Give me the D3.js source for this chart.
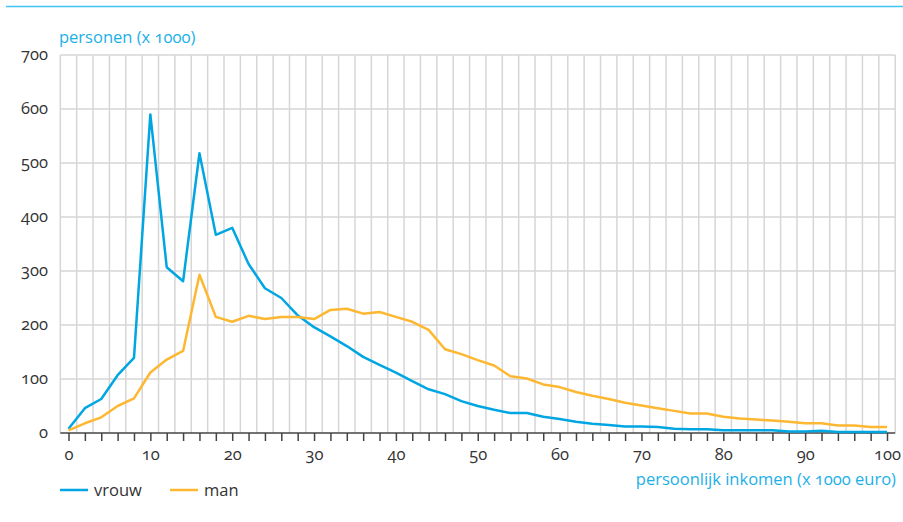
<!DOCTYPE html>
<html>
<head>
<meta charset="utf-8">
<script src="https://cdn.jsdelivr.net/npm/d3@7"></script>
<style>
  body { margin: 0; background: #fff; }
  svg text { font-family: "Open Sans", "Noto Sans", sans-serif; font-variant-numeric: oldstyle-nums; }
</style>
</head>
<body>
<div id="chart"></div>
<script>
// inkomen (x 1000 euro), steps of 2
var income = d3.range(0, 101, 2);
var vrouw = [8, 46, 63, 107, 139, 590, 307, 281, 518, 367, 380, 313, 268, 250, 218, 196,
  179, 161, 141, 126, 112, 96, 81, 72, 59, 50, 43, 37, 37, 30, 26, 21, 17, 15, 12, 12,
  11, 8, 7, 7, 5, 5, 5, 5, 3, 3, 4, 2, 2, 2, 2];
var man = [5, 18, 29, 50, 64, 112, 136, 152, 293, 215, 206, 217, 211, 215, 215, 211,
  228, 230, 221, 224, 215, 206, 191, 155, 146, 135, 125, 105, 101, 90, 85, 76, 69, 63,
  56, 51, 46, 41, 36, 36, 30, 27, 25, 23, 21, 18, 18, 14, 14, 11, 11];
var yTicks = [0, 100, 200, 300, 400, 500, 600, 700];
var xTicks = [0, 10, 20, 30, 40, 50, 60, 70, 80, 90, 100];
var series = [
  {name: "vrouw", values: vrouw, color: "#00a6e2"},
  {name: "man", values: man, color: "#fdb731"}
];

var width = 903, height = 522;
var svg = d3.select("#chart").append("svg")
  .attr("width", width)
  .attr("height", height);

var x = d3.scaleLinear().domain([0, 100]).range([68.5, 887]);
var y = d3.scaleLinear().domain([0, 700]).range([433, 55]);

// top rule
svg.append("line")
  .attr("x1", 6).attr("x2", width)
  .attr("y1", 6.5).attr("y2", 6.5)
  .attr("stroke", "#3ec3f2")
  .attr("stroke-width", 1.5);

svg.append("text")
  .attr("x", 59).attr("y", 43)
  .attr("fill", "#1cb0e8")
  .style("font-size", "16.5px")
  .text("personen (x 1000)");

// grid: vertical lines at odd values, horizontal at y ticks
var gridX = d3.range(-1, 102, 2);
svg.append("g").selectAll("line").data(gridX).enter().append("line")
  .attr("x1", d => x(d)).attr("x2", d => x(d))
  .attr("y1", y(700)).attr("y2", y(0))
  .attr("stroke", "#d6d6d6")
  .attr("stroke-width", 1.5);

svg.append("g").selectAll("line").data(yTicks.slice(1)).enter().append("line")
  .attr("x1", x(-1)).attr("x2", x(101))
  .attr("y1", d => y(d)).attr("y2", d => y(d))
  .attr("stroke", "#d6d6d6")
  .attr("stroke-width", 1.5);

// y labels
svg.append("g").selectAll("text").data(yTicks).enter().append("text")
  .attr("x", 48)
  .attr("y", d => y(d) + 5)
  .attr("text-anchor", "end")
  .attr("fill", "#333")
  .style("font-size", "16.5px")
  .text(d => d);

// x axis
var xAxis = d3.axisBottom(x)
  .tickValues(income)
  .tickSize(8)
  .tickFormat(d => xTicks.indexOf(d) >= 0 ? d : "");
var gx = svg.append("g")
  .attr("transform", "translate(0," + y(0) + ")")
  .call(xAxis);
gx.select(".domain")
  .attr("d", "M" + x(-1) + ",0H" + x(101))
  .attr("stroke", "#444")
  .attr("stroke-width", 1.5);
gx.selectAll(".tick line").attr("stroke", "#444").attr("stroke-width", 1.5);
gx.selectAll(".tick text")
  .attr("y", 15)
  .attr("fill", "#333")
  .style("font-size", "16.5px")
  .style("font-family", "'Open Sans', 'Noto Sans', sans-serif");

svg.append("text")
  .attr("x", 896).attr("y", 485)
  .attr("text-anchor", "end")
  .attr("fill", "#1cb0e8")
  .style("font-size", "16.5px")
  .text("persoonlijk inkomen (x 1000 euro)");

// lines
var line = d3.line()
  .x((d, i) => x(income[i]))
  .y(d => y(d));

svg.append("g").selectAll("path").data(series).enter().append("path")
  .attr("d", d => line(d.values))
  .attr("fill", "none")
  .attr("stroke", d => d.color)
  .attr("stroke-width", 2.5)
  .attr("stroke-linejoin", "round");

// legend
var legend = svg.append("g").selectAll("g").data(series).enter().append("g")
  .attr("transform", (d, i) => "translate(" + (60 + i * 110) + ",490)");
legend.append("line")
  .attr("x1", 0).attr("x2", 28)
  .attr("stroke", d => d.color)
  .attr("stroke-width", 2.5);
legend.append("text")
  .attr("x", 34).attr("y", 5.5)
  .attr("fill", "#333")
  .style("font-size", "16.5px")
  .text(d => d.name);
</script>
</body>
</html>
